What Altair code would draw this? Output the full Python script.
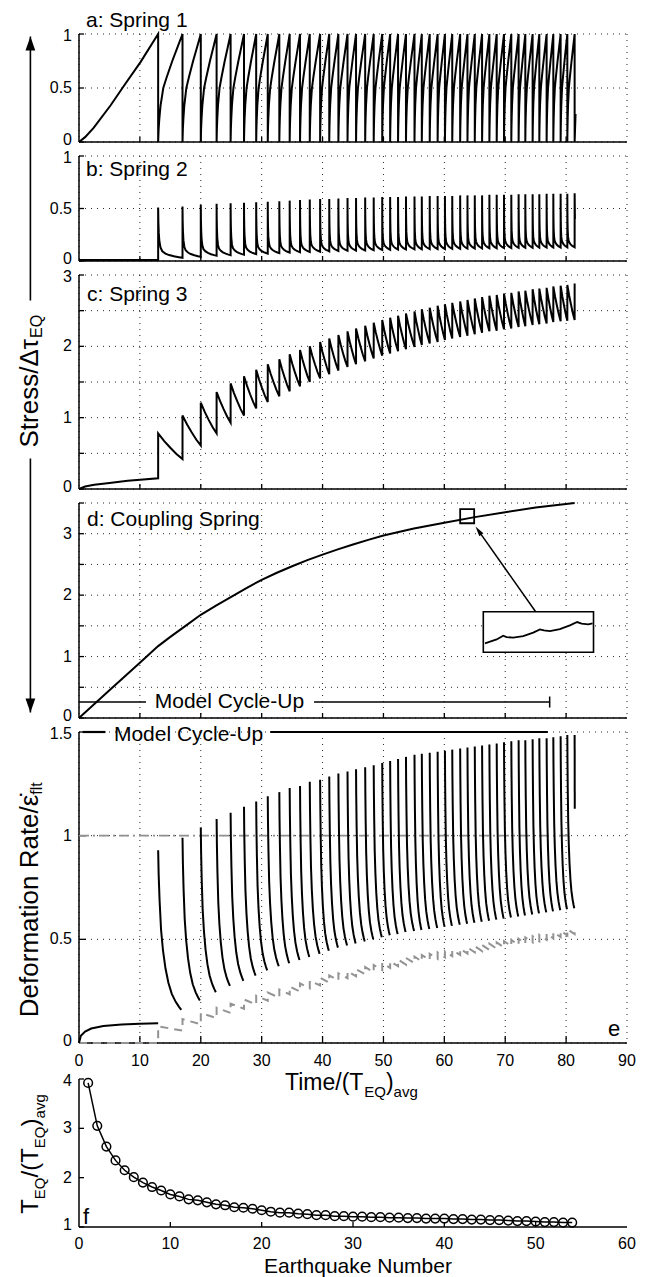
import altair as alt
import pandas as pd

FONT = "Liberation Sans, Arial, Helvetica, sans-serif"

# ---------------- values ----------------
# earthquake times (Time/(T_EQ)avg), read from the spikes of panels a-e
event_t = [13.0, 17.0, 20.0, 22.6, 24.9, 27.1, 29.1, 31.0, 32.9, 34.6,
           36.3, 37.9, 39.6, 41.1, 42.6, 44.1, 45.5, 47.0, 48.4, 49.8,
           51.1, 52.4, 53.7, 55.1, 56.3, 57.6, 58.9, 60.1, 61.3, 62.6,
           63.8, 65.0, 66.2, 67.4, 68.6, 69.8, 71.0, 72.2, 73.3, 74.5,
           75.6, 76.8, 77.9, 79.1, 80.2, 81.4]

# panel a: Spring 1
a_ramp_t = [0, 1, 2.4, 5.2, 7.5, 10.1, 13.0]
a_ramp_v = [0, 0.045, 0.13, 0.34, 0.53, 0.74, 1.0]
a_rise_s = [0, 0.02, 0.05, 0.1, 0.21, 0.35, 0.58, 0.8, 1.0]
a_rise_v = [0, 0.12, 0.22, 0.34, 0.5, 0.6, 0.75, 0.88, 1.0]
a_tail_t = [81.4, 81.55]
a_tail_v = [0, 0.26]

# panel b: Spring 2
b_pre_t = [0, 13.0]
b_pre_v = [0.01, 0.01]
b_peak = [0.51, 0.52, 0.535, 0.545, 0.55, 0.555, 0.56, 0.565, 0.57, 0.575,
          0.58, 0.585, 0.59, 0.59, 0.595, 0.60, 0.60, 0.605, 0.605, 0.61,
          0.61, 0.61, 0.615, 0.615, 0.615, 0.62, 0.62, 0.62, 0.62, 0.625,
          0.625, 0.625, 0.625, 0.63, 0.63, 0.63, 0.63, 0.635, 0.635, 0.635,
          0.635, 0.64, 0.64, 0.64, 0.64, 0.645]
b_trough = [0.03, 0.04, 0.05, 0.055, 0.06, 0.065, 0.07, 0.075, 0.08, 0.083,
            0.086, 0.089, 0.092, 0.095, 0.097, 0.099, 0.101, 0.103, 0.105, 0.107,
            0.109, 0.11, 0.111, 0.112, 0.113, 0.114, 0.115, 0.116, 0.117, 0.118,
            0.119, 0.12, 0.121, 0.122, 0.123, 0.124, 0.125, 0.126, 0.127, 0.128,
            0.128, 0.129, 0.129, 0.13, 0.13]
b_decay_s = [0, 0.01, 0.025, 0.05, 0.1, 0.17, 0.3, 0.45, 0.65, 0.85, 1.0]
b_decay_g = [1, 0.7, 0.5, 0.33, 0.2, 0.13, 0.085, 0.055, 0.03, 0.012, 0]
b_tail_t = [81.4, 81.45]
b_tail_v = [0.645, 0.40]

# panel c: Spring 3
c_pre_t = [0, 1, 2.5, 5, 8, 13.0]
c_pre_v = [0, 0.035, 0.06, 0.085, 0.115, 0.15]
c_peak = [0.78, 1.03, 1.21, 1.36, 1.48, 1.58, 1.67, 1.75, 1.82, 1.89,
          1.95, 2.00, 2.06, 2.11, 2.16, 2.21, 2.25, 2.29, 2.33, 2.37,
          2.40, 2.43, 2.46, 2.49, 2.52, 2.54, 2.57, 2.59, 2.61, 2.63,
          2.65, 2.67, 2.69, 2.71, 2.72, 2.74, 2.75, 2.77, 2.78, 2.80,
          2.81, 2.82, 2.84, 2.85, 2.86, 2.88]
c_trough = [0.42, 0.61, 0.78, 0.93, 1.03, 1.13, 1.22, 1.30, 1.37, 1.44,
            1.50, 1.55, 1.61, 1.66, 1.71, 1.75, 1.79, 1.83, 1.87, 1.90,
            1.93, 1.96, 1.99, 2.02, 2.04, 2.06, 2.09, 2.11, 2.13, 2.15,
            2.17, 2.19, 2.21, 2.22, 2.24, 2.25, 2.27, 2.28, 2.30, 2.31,
            2.32, 2.34, 2.35, 2.36, 2.37]
c_decay_s = [0, 0.25, 0.5, 0.75, 1.0]
c_decay_g = [1, 0.7, 0.44, 0.2, 0]

# panel d: Coupling Spring
d_t = [0, 5, 10, 13, 15, 17.5, 20, 22.5, 25, 27.5, 30, 32.5, 35, 37.5, 40, 42.5, 45, 47.5,
       50, 55, 60, 65, 70, 75, 81.4]
d_v = [0, 0.45, 0.90, 1.17, 1.32, 1.50, 1.68, 1.83, 1.97, 2.115, 2.25, 2.365, 2.47, 2.57,
       2.66, 2.745, 2.825, 2.90, 2.97, 3.085, 3.18, 3.27, 3.35, 3.425, 3.50]
inset_t = [66.67, 68.59, 69.67, 70.22, 71.31, 72.96, 74.6, 75.7, 76.35, 77.34, 78.98,
           80.62, 81.82, 82.54, 83.63, 84.35]
inset_v = [1.214, 1.279, 1.340, 1.317, 1.307, 1.333, 1.389, 1.443, 1.426, 1.415, 1.448,
           1.508, 1.562, 1.536, 1.525, 1.541]
inset_box_x = [66.4, 84.5]
inset_box_y = [1.07, 1.73]
zoom_sq_x = [62.6, 64.9]
zoom_sq_y = [3.17, 3.40]
arrow_from = [75.0, 1.73]
arrow_to = [65.6, 3.05]
arrow_angle = 324.5

# panel e: deformation rate
e_pre_t = [0, 0.3, 1, 2, 4, 7, 10, 13.0]
e_pre_v = [0, 0.035, 0.055, 0.07, 0.082, 0.089, 0.093, 0.095]
e_peak = [0.93, 0.99, 1.04, 1.08, 1.11, 1.14, 1.165, 1.19, 1.21, 1.23,
          1.24, 1.26, 1.27, 1.285, 1.30, 1.31, 1.32, 1.33, 1.34, 1.35,
          1.36, 1.37, 1.38, 1.39, 1.395, 1.40, 1.405, 1.41, 1.415, 1.42,
          1.425, 1.43, 1.435, 1.44, 1.445, 1.45, 1.455, 1.46, 1.46, 1.465,
          1.47, 1.47, 1.475, 1.48, 1.485, 1.485]
e_trough = [0.16, 0.205, 0.245, 0.275, 0.30, 0.325, 0.35, 0.37, 0.385, 0.40,
            0.415, 0.43, 0.445, 0.46, 0.47, 0.48, 0.49, 0.50, 0.51, 0.52,
            0.525, 0.535, 0.54, 0.545, 0.55, 0.555, 0.56, 0.565, 0.57, 0.575,
            0.58, 0.585, 0.59, 0.595, 0.60, 0.605, 0.61, 0.615, 0.62, 0.625,
            0.63, 0.635, 0.64, 0.645, 0.65]
e_decay_s = [0, 0.02, 0.06, 0.12, 0.2, 0.3, 0.42, 0.56, 0.72, 0.85, 0.95]
e_decay_g = [1, 0.85, 0.68, 0.5, 0.37, 0.26, 0.17, 0.1, 0.05, 0.02, 0]
e_tail_t = [81.4, 81.42]
e_tail_v = [1.485, 1.13]
grey_hi = [0.08, 0.115, 0.145, 0.17, 0.19, 0.21, 0.228, 0.243, 0.258, 0.272,
           0.287, 0.30, 0.315, 0.326, 0.336, 0.346, 0.356, 0.366, 0.376, 0.386,
           0.394, 0.402, 0.41, 0.417, 0.424, 0.43, 0.437, 0.443, 0.449, 0.455,
           0.461, 0.467, 0.473, 0.479, 0.485, 0.491, 0.497, 0.503, 0.509, 0.515,
           0.521, 0.528, 0.535, 0.542, 0.549, 0.556]
grey_lo = [0.06, 0.09, 0.12, 0.145, 0.165, 0.185, 0.204, 0.219, 0.234, 0.248,
           0.263, 0.278, 0.291, 0.302, 0.312, 0.322, 0.332, 0.342, 0.352, 0.362,
           0.37, 0.378, 0.386, 0.393, 0.40, 0.406, 0.413, 0.419, 0.425, 0.431,
           0.437, 0.443, 0.449, 0.455, 0.461, 0.467, 0.473, 0.479, 0.485, 0.491,
           0.497, 0.504, 0.511, 0.518, 0.525]
grey_one_t = [0, 80.5]
grey_one_v = [1, 1]

cycle_label = "Model Cycle-Up"
d_cyc_x0 = [0, 38.6]
d_cyc_x1 = [11.0, 77.3]
d_cyc_y = 0.26
d_cyc_text_x = 24.7
d_cap = [77.3, 0.17, 0.35]
e_cyc_x0 = [0.6, 31.4]
e_cyc_x1 = [4.35, 77.0]
e_cyc_y = 1.5
e_cyc_text_x = 18.0

# panel f: recurrence interval per earthquake
f_n = list(range(1, 55))
f_v = [3.92, 3.05, 2.63, 2.35, 2.15, 2.01, 1.90, 1.81, 1.74, 1.66,
       1.62, 1.56, 1.54, 1.50, 1.46, 1.44, 1.40, 1.39, 1.37, 1.34,
       1.31, 1.29, 1.29, 1.27, 1.26, 1.24, 1.24, 1.22, 1.22, 1.21,
       1.21, 1.20, 1.20, 1.19, 1.19, 1.18, 1.18, 1.17, 1.17, 1.17,
       1.16, 1.16, 1.15, 1.15, 1.14, 1.14, 1.13, 1.12, 1.12, 1.11,
       1.10, 1.10, 1.09, 1.09]

# axis ticks and tick labels
time_ticks = [0, 10, 20, 30, 40, 50, 60, 70, 80, 90]
time_labels = ["0", "10", "20", "30", "40", "50", "60", "70", "80", "90"]
eq_ticks = [0, 10, 20, 30, 40, 50, 60]
eq_labels = ["0", "10", "20", "30", "40", "50", "60"]
ab_ticks = [0, 0.5, 1]
ab_labels = ["0", "0.5", "1"]
c_grid = [0, 0.5, 1, 1.5, 2, 2.5, 3]
c_ticks = [0, 1, 2, 3]
c_labels = ["0", "1", "2", "3"]
d_grid = [0, 0.5, 1, 1.5, 2, 2.5, 3, 3.5]
d_ticks = [0, 1, 2, 3]
d_labels = ["0", "1", "2", "3"]
e_ticks = [0, 0.5, 1, 1.5]
e_labels = ["0", "0.5", "1", "1.5"]
f_ticks = [1, 2, 3, 4]
f_labels = ["1", "2", "3", "4"]

# ---------------- build series ----------------
nc = len(event_t) - 1


def series_a():
    pts = list(zip(a_ramp_t, a_ramp_v))
    for i in range(nc):
        t0, t1 = event_t[i], event_t[i + 1]
        pts += [(t0 + s * (t1 - t0), h) for s, h in zip(a_rise_s, a_rise_v)]
    pts += list(zip(a_tail_t, a_tail_v))
    return pts


def series_decay(pre_t, pre_v, peak, trough, ss, gg, tail=None):
    pts = list(zip(pre_t, pre_v))
    for i in range(nc):
        t0, t1 = event_t[i], event_t[i + 1]
        pts += [(t0 + s * (t1 - t0), trough[i] + (peak[i] - trough[i]) * g) for s, g in zip(ss, gg)]
    if tail:
        pts += tail
    return pts


def to_df(pts, seg=0):
    return pd.DataFrame({"t": [p[0] for p in pts], "v": [p[1] for p in pts],
                         "i": list(range(len(pts))), "seg": seg})


df_a = to_df(series_a())
df_b = to_df(series_decay(b_pre_t, b_pre_v, b_peak, b_trough, b_decay_s, b_decay_g,
                          list(zip(b_tail_t, b_tail_v))))
df_c = to_df(series_decay(c_pre_t, c_pre_v, c_peak, c_trough, c_decay_s, c_decay_g,
                          [(event_t[-1], c_peak[-1])]))
df_d = to_df(list(zip(d_t, d_v)))

e_parts = [to_df(list(zip(e_pre_t, e_pre_v)), 0)]
for i in range(nc):
    t0, t1 = event_t[i], event_t[i + 1]
    pts = [(t0 + s * (t1 - t0), e_trough[i] + (e_peak[i] - e_trough[i]) * g)
           for s, g in zip(e_decay_s, e_decay_g)]
    e_parts.append(to_df(pts, i + 1))
e_parts.append(to_df(list(zip(e_tail_t, e_tail_v)), nc + 1))
df_e = pd.concat(e_parts, ignore_index=True)
df_e["i"] = range(len(df_e))

g_pts = [(0, 0), (event_t[0], 0)]
for i in range(nc):
    g_pts += [(event_t[i], grey_hi[i]), (event_t[i + 1], grey_lo[i])]
g_pts += [(event_t[-1], grey_hi[-1])]
df_grey = to_df(g_pts)
df_one = to_df(list(zip(grey_one_t, grey_one_v)))
df_f = pd.DataFrame({"n": f_n, "v": f_v})

# ---------------- helpers ----------------
W = 548
ONE = pd.DataFrame({"s": [0]})
ARIAL = {' ': 278, '(': 333, ')': 333, '-': 333, '/': 278, '.': 278, ':': 278,
         'C': 722, 'D': 722, 'E': 667, 'M': 833, 'N': 722, 'Q': 778, 'R': 722, 'S': 667,
         'T': 611, 'U': 722, 'a': 556, 'b': 556, 'c': 500, 'd': 556, 'e': 556, 'f': 278,
         'g': 556, 'h': 556, 'i': 222, 'k': 500, 'l': 222, 'm': 833, 'n': 556, 'o': 556,
         'p': 556, 'q': 556, 'r': 333, 's': 500, 't': 278, 'u': 556, 'v': 500, 'y': 500,
         '\u0394': 668, '\u03c4': 430, '\u03b5': 446, '\u0307': 0}


def tw(s, size):
    return sum(ARIAL.get(c, 556) for c in s) * size / 1000.0


def text_px(txt, x, y, size, align="left", angle=0, baseline="alphabetic"):
    return alt.Chart(pd.DataFrame({"s": [txt]})).mark_text(
        font=FONT, fontSize=size, align=align, baseline=baseline, angle=angle, color="black"
    ).encode(text="s:N", x=alt.value(x), y=alt.value(y))


def chain_h(pieces, x0):
    out, x = [], x0
    for txt, size, by in pieces:
        out.append(text_px(txt, x, by, size))
        x += tw(txt, size)
    return out


def chain_v(pieces, y0):
    out, y = [], y0
    for txt, size, bx in pieces:
        out.append(text_px(txt, bx, y, size, angle=270))
        y -= tw(txt, size)
    return out


def line_layer(df, XS, YS, color="black", width=2.0, dash=None, xf="t", detail=False):
    kw = dict(color=color, strokeWidth=width, interpolate="linear")
    if dash:
        kw["strokeDash"] = dash
    enc = dict(x=alt.X(f"{xf}:Q", scale=XS, axis=None),
               y=alt.Y("v:Q", scale=YS, axis=None), order="i:Q")
    if detail:
        enc["detail"] = "seg:N"
    return alt.Chart(df).mark_line(**kw).encode(**enc)


def ylabel_layer(vals, txts, YS, dy):
    return alt.Chart(pd.DataFrame({"v": vals, "s": txts})).mark_text(
        font=FONT, fontSize=16, align="right", baseline="middle", color="black", dy=dy).encode(
        y=alt.Y("v:Q", scale=YS, axis=None), x=alt.value(-7), text="s:N")


def panel(h, ydom, ygrid, ylab_v, ylab_s, extra, xdom=(0, 90), xgrid=time_ticks,
          xlab_v=None, xlab_s=None, grid=True, tick_len=5, xpad=7):
    XS = alt.Scale(domain=list(xdom), nice=False, zero=False)
    YS = alt.Scale(domain=list(ydom), nice=False, zero=False)
    layers = []
    if grid:
        layers.append(alt.Chart(pd.DataFrame({"t": xgrid})).mark_rule(
            color="black", strokeWidth=1, strokeDash=[1, 5], opacity=0.85).encode(
            x=alt.X("t:Q", scale=XS, axis=None), y=alt.value(0), y2=alt.value(h)))
        layers.append(alt.Chart(pd.DataFrame({"v": ygrid})).mark_rule(
            color="black", strokeWidth=1, strokeDash=[1, 5], opacity=0.85).encode(
            y=alt.Y("v:Q", scale=YS, axis=None), x=alt.value(0), x2=alt.value(W)))
    # axis lines (left and bottom)
    layers.append(alt.Chart(ONE).mark_rule(color="black", strokeWidth=1.5).encode(
        x=alt.value(0), y=alt.value(0), y2=alt.value(h)))
    layers.append(alt.Chart(ONE).mark_rule(color="black", strokeWidth=1.5).encode(
        y=alt.value(h), x=alt.value(0), x2=alt.value(W)))
    # inward ticks
    layers.append(alt.Chart(pd.DataFrame({"t": xgrid[1:-1]})).mark_rule(
        color="black", strokeWidth=1.3).encode(
        x=alt.X("t:Q", scale=XS, axis=None), y=alt.value(h), y2=alt.value(h - tick_len)))
    layers.append(alt.Chart(pd.DataFrame({"v": ygrid})).mark_rule(
        color="black", strokeWidth=1.3).encode(
        y=alt.Y("v:Q", scale=YS, axis=None), x=alt.value(0), x2=alt.value(tick_len)))
    # tick labels: lowest nudged up, highest nudged down so neighbouring panels don't collide
    layers.append(ylabel_layer(ylab_v[:1], ylab_s[:1], YS, -2))
    if len(ylab_v) > 2:
        layers.append(ylabel_layer(ylab_v[1:-1], ylab_s[1:-1], YS, 0))
    top_dy = 2 if ylab_v[-1] == ydom[1] else 0
    layers.append(ylabel_layer(ylab_v[-1:], ylab_s[-1:], YS, top_dy))
    if xlab_v is not None:
        layers.append(alt.Chart(pd.DataFrame({"t": xlab_v, "s": xlab_s})).mark_text(
            font=FONT, fontSize=16, align="center", baseline="top", color="black").encode(
            x=alt.X("t:Q", scale=XS, axis=None), y=alt.value(h + xpad), text="s:N"))
    layers += extra(XS, YS)
    return alt.layer(*layers).properties(width=W, height=h)


UP = "M0,-1L0.7,1L-0.7,1Z"
DOWN = "M0,1L0.7,-1L-0.7,-1Z"
HEAD = "M0,-1L0.5,1L-0.5,1Z"

H_A, H_B, H_C, H_D, H_E, H_F = 108, 105, 214, 215, 311, 148


def extra_a(XS, YS):
    anchor = alt.Chart(ONE).mark_point(
        filled=True, size=1, opacity=0).encode(x=alt.value(-70.5), y=alt.value(-25))
    return [line_layer(df_a, XS, YS), text_px("a: Spring 1", 7, -6.8, 21), anchor]


def extra_b(XS, YS):
    return [line_layer(df_b, XS, YS), text_px("b: Spring 2", 7, 19.5, 21)]


def extra_c(XS, YS):
    out = [line_layer(df_c, XS, YS), text_px("c: Spring 3", 8, 25.5, 21)]
    out += chain_v([("Stress/\u0394\u03c4", 26, -41.5), ("EQ", 16, -37)], 172.5)
    out.append(alt.Chart(ONE).mark_rule(color="black", strokeWidth=1.6).encode(
        x=alt.value(-48.6), y=alt.value(-238.5), y2=alt.value(25.5)))
    out.append(alt.Chart(ONE).mark_rule(color="black", strokeWidth=1.6).encode(
        x=alt.value(-48.6), y=alt.value(183.5), y2=alt.value(437.5)))
    out.append(alt.Chart(ONE).mark_point(shape=UP, filled=True, color="black", opacity=1,
                                         size=196, strokeWidth=0).encode(
        x=alt.value(-48.6), y=alt.value(-231.5)))
    out.append(alt.Chart(ONE).mark_point(shape=DOWN, filled=True, color="black", opacity=1,
                                         size=196, strokeWidth=0).encode(
        x=alt.value(-48.6), y=alt.value(430.5)))
    return out


def extra_d(XS, YS):
    out = [line_layer(df_d, XS, YS, xf="t"), text_px("d: Coupling Spring", 8, 23, 21)]
    seg = pd.DataFrame({"x0": d_cyc_x0, "x1": d_cyc_x1, "y": d_cyc_y})
    out.append(alt.Chart(seg).mark_rule(color="black", strokeWidth=1.5).encode(
        x=alt.X("x0:Q", scale=XS, axis=None), x2="x1:Q", y=alt.Y("y:Q", scale=YS, axis=None)))
    cap = pd.DataFrame({"x": [d_cap[0]], "y0": [d_cap[1]], "y1": [d_cap[2]]})
    out.append(alt.Chart(cap).mark_rule(color="black", strokeWidth=1.5).encode(
        x=alt.X("x:Q", scale=XS, axis=None), y=alt.Y("y0:Q", scale=YS, axis=None), y2="y1:Q"))
    lab = pd.DataFrame({"x": [d_cyc_text_x], "y": [d_cyc_y], "s": [cycle_label]})
    out.append(alt.Chart(lab).mark_text(font=FONT, fontSize=21, align="center", baseline="middle",
                                        color="black").encode(
        x=alt.X("x:Q", scale=XS, axis=None), y=alt.Y("y:Q", scale=YS, axis=None), text="s:N"))
    box = pd.DataFrame({"x0": [inset_box_x[0]], "x1": [inset_box_x[1]],
                        "y0": [inset_box_y[0]], "y1": [inset_box_y[1]]})
    out.append(alt.Chart(box).mark_rect(fill="white", stroke="black", strokeWidth=1.6).encode(
        x=alt.X("x0:Q", scale=XS, axis=None), x2="x1:Q",
        y=alt.Y("y0:Q", scale=YS, axis=None), y2="y1:Q"))
    ins = to_df(list(zip(inset_t, inset_v)))
    out.append(line_layer(ins, XS, YS, width=1.8))
    sq = pd.DataFrame({"x0": [zoom_sq_x[0]], "x1": [zoom_sq_x[1]],
                       "y0": [zoom_sq_y[0]], "y1": [zoom_sq_y[1]]})
    out.append(alt.Chart(sq).mark_rect(fillOpacity=0, stroke="black", strokeWidth=1.8).encode(
        x=alt.X("x0:Q", scale=XS, axis=None), x2="x1:Q",
        y=alt.Y("y0:Q", scale=YS, axis=None), y2="y1:Q"))
    arr = pd.DataFrame({"x0": [arrow_from[0]], "y0": [arrow_from[1]],
                        "x1": [arrow_to[0]], "y1": [arrow_to[1]]})
    out.append(alt.Chart(arr).mark_rule(color="black", strokeWidth=1.5).encode(
        x=alt.X("x0:Q", scale=XS, axis=None), y=alt.Y("y0:Q", scale=YS, axis=None),
        x2="x1:Q", y2="y1:Q"))
    out.append(alt.Chart(arr).mark_point(shape=HEAD, filled=True, color="black", opacity=1,
                                         size=100, strokeWidth=0, angle=arrow_angle).encode(
        x=alt.X("x1:Q", scale=XS, axis=None), y=alt.Y("y1:Q", scale=YS, axis=None)))
    return out


def extra_e(XS, YS):
    out = [line_layer(df_one, XS, YS, color="#909090", width=1.8, dash=[10, 4, 2, 4]),
           line_layer(df_grey, XS, YS, color="#939393", width=2.0, dash=[8, 6]),
           line_layer(df_e, XS, YS, detail=True)]
    seg = pd.DataFrame({"x0": e_cyc_x0, "x1": e_cyc_x1, "y": e_cyc_y})
    out.append(alt.Chart(seg).mark_rule(color="black", strokeWidth=2.2).encode(
        x=alt.X("x0:Q", scale=XS, axis=None), x2="x1:Q", y=alt.Y("y:Q", scale=YS, axis=None)))
    lab = pd.DataFrame({"x": [e_cyc_text_x], "y": [e_cyc_y], "s": [cycle_label]})
    out.append(alt.Chart(lab).mark_text(font=FONT, fontSize=21, align="center", baseline="middle",
                                        dy=3, color="black").encode(
        x=alt.X("x:Q", scale=XS, axis=None), y=alt.Y("y:Q", scale=YS, axis=None), text="s:N"))
    out.append(text_px("e", 535, 303.5, 22, align="center"))
    out += chain_v([("Deformation Rate/\u03b5\u0307", 26, -41.5), ("flt", 16, -37)], 285.2)
    out += chain_h([("Time/(T", 23, 357.5), ("EQ", 15, 364.5), (")", 23, 357.5), ("avg", 15, 364.5)], 206)
    return out


def extra_f(XS, YS):
    enc = dict(x=alt.X("n:Q", scale=XS, axis=None), y=alt.Y("v:Q", scale=YS, axis=None))
    out = [alt.Chart(df_f).mark_line(color="black", strokeWidth=1.5).encode(**enc),
           alt.Chart(df_f).mark_point(shape="circle", filled=False, color="black", opacity=1,
                                      size=75, strokeWidth=1.5).encode(**enc),
           text_px("f", 4, 144.8, 22),
           text_px("Earthquake Number", 279, 194, 21, align="center")]
    out += chain_v([("T", 24, -41), ("EQ", 15, -34), ("/(T", 24, -41), ("EQ", 15, -34),
                    (")", 24, -41), ("avg", 15, -34)], 134.8)
    return out


pa = panel(H_A, (0, 1), ab_ticks, ab_ticks, ab_labels, extra_a)
pb = panel(H_B, (0, 1), ab_ticks, ab_ticks, ab_labels, extra_b)
pc = panel(H_C, (0, 3), c_grid, c_ticks, c_labels, extra_c)
pd_ = panel(H_D, (0, 3.5), d_grid, d_ticks, d_labels, extra_d)
pe = panel(H_E, (0, 1.5), e_ticks, e_ticks, e_labels, extra_e,
           xlab_v=time_ticks, xlab_s=time_labels, tick_len=7, xpad=10)
pf = panel(H_F, (1, 4), f_ticks, f_ticks, f_labels, extra_f, xdom=(0, 60), xgrid=eq_ticks,
           xlab_v=eq_ticks, xlab_s=eq_labels, grid=False, xpad=9)
spacer = alt.Chart(ONE).mark_point(opacity=0, size=1).encode(
    x=alt.value(0), y=alt.value(0)).properties(width=W, height=8)

chart = alt.VConcatChart(vconcat=[pa, pb, pc, pd_, pe, spacer, pf], spacing=14,
                         bounds="flush", padding=0, background="white").configure_view(
    stroke="transparent", strokeWidth=0)

chart.save("out.html", embed_options={"renderer": "svg", "actions": False})
